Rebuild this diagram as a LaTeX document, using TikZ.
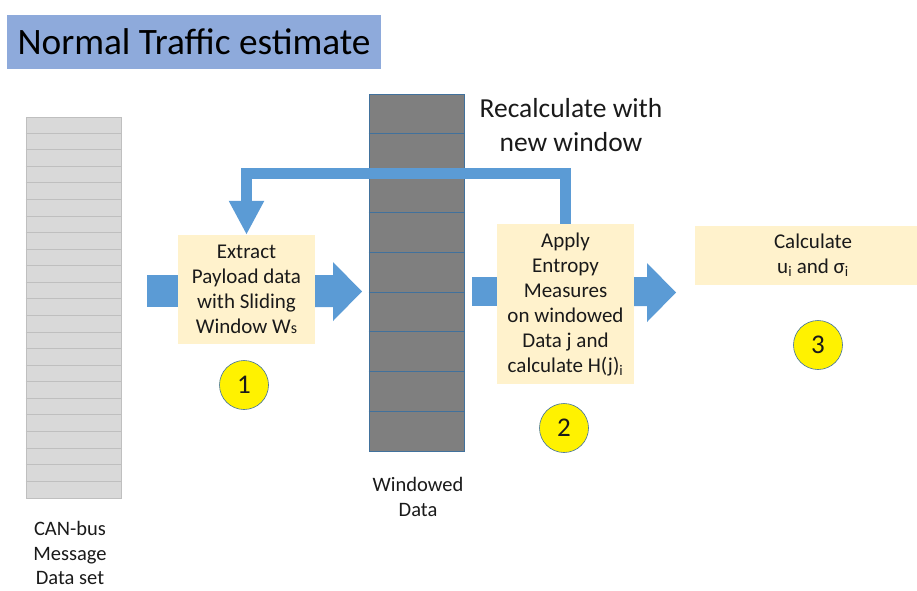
\documentclass[tikz,border=0pt]{standalone}
\usepackage{fontspec}
\setmainfont{Carlito}
\usetikzlibrary{arrows.meta,calc}
\definecolor{arrowblue}{HTML}{5B9BD5}
\definecolor{edgeblue}{HTML}{41719C}
\definecolor{titlefill}{HTML}{8EAADB}
\definecolor{boxfill}{HTML}{FFF2CC}
\definecolor{rowgray}{HTML}{D9D9D9}
\definecolor{rowline}{HTML}{BFBFBF}
\definecolor{darkcell}{HTML}{7F7F7F}
\definecolor{txt}{HTML}{1A1A1A}
\tikzset{
  stepbox/.style={fill=boxfill, draw=none, align=center, text=txt,
    font=\fontsize{21}{25}\selectfont, inner sep=0pt},
  marker/.style={circle, fill=yellow, draw=edgeblue, line width=0.6pt,
    minimum size=49pt, inner sep=0pt, text=txt, font=\fontsize{27}{27}\selectfont},
  label text/.style={align=center, text=txt, font=\fontsize{20.5}{25}\selectfont, inner sep=0pt},
  blockarrow/.style={fill=arrowblue, draw=none},
  loopback/.style={draw=arrowblue, line width=11pt,
    -{Triangle[width=33pt,length=34pt]}},
}
\begin{document}
\begin{tikzpicture}[x=1pt,y=-1pt]
\useasboundingbox (0,0) rectangle (917,590);
\clip (0,0) rectangle (917,590);

% title banner
\node[fill=titlefill, minimum width=374pt, minimum height=54pt, inner sep=0pt,
      text=black, font=\fontsize{37.3}{37.3}\selectfont] (title) at (194,42) {Normal Traffic estimate};

% CAN-bus message column
\node[fill=rowgray, draw=rowline, line width=0.6pt, minimum width=95pt, minimum height=381pt,
      inner sep=0pt] (can) at (73.5,307.5) {};
\foreach \k in {1,...,22}
  \draw[rowline, line width=1pt] ($(can.north west)+(0,\k*381/23)$) -- ($(can.north east)+(0,\k*381/23)$);
\node[label text, font=\fontsize{20.5}{24.5}\selectfont] (canlbl) at (70,553) {CAN-bus\\Message\\Data set};

% windowed data column
\node[fill=darkcell, draw=edgeblue, line width=0.8pt, minimum width=95pt, minimum height=357pt,
      inner sep=0pt] (win) at (416.5,272.5) {};
\foreach \k in {1,...,8}
  \draw[edgeblue, line width=0.8pt] ($(win.north west)+(0,\k*357/9)$) -- ($(win.north east)+(0,\k*357/9)$);
\node[label text] (winlbl) at (418,497) {Windowed\\Data};

% block arrows between the stages
\fill[blockarrow] (147,275) rectangle (200,307);
\fill[blockarrow] (300,275) -- (333,275) -- (333,262) -- (362,291.5) -- (333,321) -- (333,307) -- (300,307) -- cycle;
\fill[blockarrow] (472,277) rectangle (520,306);
\fill[blockarrow] (610,277) -- (647,277) -- (647,263) -- (676,292.5) -- (647,322) -- (647,306) -- (610,306) -- cycle;

% processing stages
\node[stepbox, minimum width=137pt, minimum height=109pt] (b1) at (246.5,289.5)
  {Extract\\Payload data\\with Sliding\\Window W{\fontsize{16}{16}\selectfont s}};
\node[stepbox, minimum width=137pt, minimum height=160pt] (b2) at (565.5,304)
  {Apply\\Entropy\\Measures\\on windowed\\Data j and\\calculate H(j)\textsubscript{i}};
\node[stepbox, minimum width=236pt, minimum height=59pt] (b3) at (813,255.5)
  {Calculate\\u\textsubscript{i} and σ\textsubscript{i}};

% recalculation loop
\coordinate (looptop) at (0,173);
\draw[loopback] (b2.north) |- (looptop -| b1.north) -- (b1.north);
\node[label text, font=\fontsize{27.5}{34}\selectfont] (recalc) at (571,125) {Recalculate with\\new window};

% stage markers
\node[marker] (m1) at (244,385) {1};
\node[marker] (m2) at (564,428) {2};
\node[marker] (m3) at (818,345) {3};
\end{tikzpicture}
\end{document}
